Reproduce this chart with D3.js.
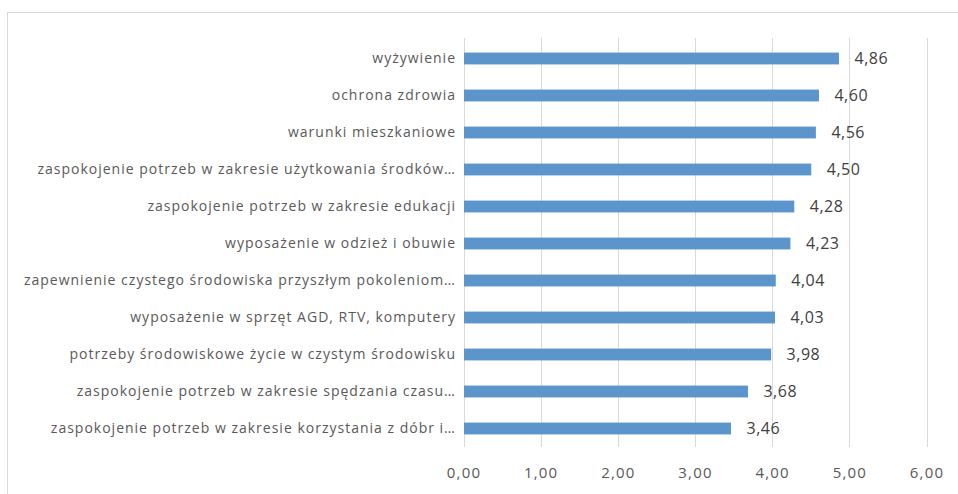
<!DOCTYPE html>
<html>
<head>
<meta charset="utf-8">
<script src="https://cdn.jsdelivr.net/npm/d3@7"></script>
<style>
  body { margin: 0; background: #fff; }
  svg { display: block; }
</style>
</head>
<body>
<div></div>
<script>
var categories = [
    'wyżywienie',
    'ochrona zdrowia',
    'warunki mieszkaniowe',
    'zaspokojenie potrzeb w zakresie użytkowania środków…',
    'zaspokojenie potrzeb w zakresie edukacji',
    'wyposażenie w odzież i obuwie',
    'zapewnienie czystego środowiska przyszłym pokoleniom…',
    'wyposażenie  w sprzęt AGD, RTV, komputery',
    'potrzeby środowiskowe życie w czystym środowisku',
    'zaspokojenie potrzeb w zakresie spędzania czasu…',
    'zaspokojenie potrzeb w zakresie korzystania z dóbr i…'
];
var values = [4.86, 4.60, 4.56, 4.50, 4.28, 4.23, 4.04, 4.03, 3.98, 3.68, 3.46];
var ticks = [0, 1, 2, 3, 4, 5, 6];

var width = 958;
var height = 494;
var fmt = (v) => v.toFixed(2).replace('.', ',');

var svg = d3.select('div')
    .append('svg')
    .attr('width', width)
    .attr('height', height);

// chart frame (right and bottom edges fall outside the picture)
svg.append('rect')
    .attr('x', 7.5)
    .attr('y', 12.5)
    .attr('width', 960)
    .attr('height', 500)
    .attr('fill', 'none')
    .attr('stroke', '#d9d9d9');

var x = d3.scaleLinear()
    .domain([0, 6])
    .range([463.5, 926.5]);

var y = d3.scaleBand()
    .domain(categories)
    .range([40, 447])
    .paddingInner(0.68)
    .paddingOuter(0.34);

// gridlines
svg.append('g')
    .selectAll('line')
    .data(ticks)
    .enter()
    .append('line')
    .attr('x1', (d) => Math.round(x(d)) + 0.5)
    .attr('x2', (d) => Math.round(x(d)) + 0.5)
    .attr('y1', 38)
    .attr('y2', 447)
    .attr('stroke', '#d9d9d9');

// bars
svg.append('g')
    .selectAll('rect')
    .data(values)
    .enter()
    .append('rect')
    .attr('x', x(0) + 0.5)
    .attr('y', (d, i) => y(categories[i]))
    .attr('width', (d) => x(d) - x(0))
    .attr('height', y.bandwidth())
    .attr('fill', '#5b95cb');

// value labels
svg.append('g')
    .selectAll('text')
    .data(values)
    .enter()
    .append('text')
    .attr('x', (d) => x(d) + 16)
    .attr('y', (d, i) => y(categories[i]) + y.bandwidth() / 2)
    .attr('dy', '0.35em')
    .attr('font-family', 'Open Sans, sans-serif')
    .attr('font-size', 16)
    .attr('letter-spacing', 0.5)
    .attr('fill', '#404040')
    .text((d) => fmt(d));

// category labels
svg.append('g')
    .selectAll('text')
    .data(categories)
    .enter()
    .append('text')
    .attr('x', 456)
    .attr('y', (d) => y(d) + y.bandwidth() / 2)
    .attr('dy', '0.35em')
    .attr('text-anchor', 'end')
    .attr('font-family', 'Open Sans, sans-serif')
    .attr('font-size', 14)
    .attr('letter-spacing', 1.0)
    .attr('fill', '#595959')
    .text((d) => d);

// x axis tick labels
var xAxis = d3.axisBottom(x)
    .tickValues(ticks)
    .tickSize(0)
    .tickPadding(0)
    .tickFormat(fmt);

var axisG = svg.append('g')
    .attr('transform', 'translate(0,467)')
    .call(xAxis);
axisG.select('.domain').remove();
axisG.selectAll('text')
    .attr('font-family', 'Open Sans, sans-serif')
    .attr('font-size', 15)
    .attr('letter-spacing', 1.2)
    .attr('fill', '#595959');
</script>
</body>
</html>
